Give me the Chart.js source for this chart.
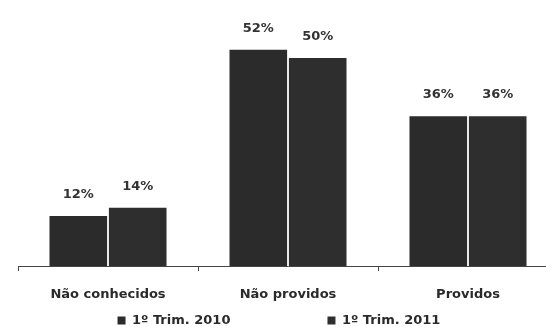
<!DOCTYPE html>
<html>
<head>
<title>Recursos</title>
<style>
  html, body { margin: 0; background: #fff; overflow: hidden; }
  #wrap { width: 558px; height: 337px; }
</style>
</head>
<body>
<div id="wrap"><canvas id="myChart"></canvas></div>
<script src="https://cdn.jsdelivr.net/npm/chart.js"></script>
<script>
const categories = ["Não conhecidos", "Não providos", "Providos"];
const series2010 = [12, 52, 36];
const series2011 = [14, 50, 36];
const seriesNames = ["1º Trim. 2010", "1º Trim. 2011"];

// labels with the percent above each bar
const valueLabels = {
  id: 'valueLabels',
  afterDatasetsDraw(chart) {
    const ctx = chart.ctx;
    ctx.save();
    ctx.font = 'bold 13px "DejaVu Sans"';
    ctx.fillStyle = '#333';
    ctx.textAlign = 'center';
    ctx.textBaseline = 'alphabetic';
    chart.data.datasets.forEach((ds, i) => {
      chart.getDatasetMeta(i).data.forEach((bar, j) => {
        ctx.fillText(ds.data[j] + '%', bar.x, bar.y - 18);
      });
    });
    ctx.restore();
  }
};

const data = {
  labels: categories,
  datasets: [{
    label: seriesNames[0],
    data: series2010,
    backgroundColor: '#2b2b2b',
    categoryPercentage: 0.66,
    barPercentage: 0.97
  }, {
    label: seriesNames[1],
    data: series2011,
    backgroundColor: '#2e2e2e',
    categoryPercentage: 0.66,
    barPercentage: 0.97
  }]
};

const config = {
  type: 'bar',
  data: data,
  options: {
    responsive: true,
    maintainAspectRatio: false,
    animation: false,
    layout: { padding: { left: 18, right: 0, top: 4, bottom: 0 } },
    plugins: {
      tooltip: { enabled: false },
      legend: {
        position: 'bottom',
        labels: {
          boxWidth: 8,
          boxHeight: 8,
          padding: 2,
          color: '#2a2a2a',
          font: { family: 'DejaVu Sans', size: 13, weight: 'bold' },
          // wide gap between the two entries, as in the original
          generateLabels(chart) {
            const items = Chart.defaults.plugins.legend.labels.generateLabels(chart);
            items[0].text = items[0].text + '                     ';
            items[1].text = items[1].text + '    ';
            return items;
          }
        }
      }
    },
    scales: {
      x: {
        grid: { drawOnChartArea: false, drawTicks: true, tickLength: 5, color: '#444' },
        border: { display: true, color: '#444' },
        ticks: { color: '#2a2a2a', padding: 16, font: { family: 'DejaVu Sans', size: 13, weight: 'bold' } },
        afterFit(scale) { scale.height = 46; }
      },
      y: {
        display: false,
        min: 0,
        max: 63
      }
    }
  },
  plugins: [valueLabels]
};

new Chart(document.getElementById('myChart'), config);
</script>
</body>
</html>
